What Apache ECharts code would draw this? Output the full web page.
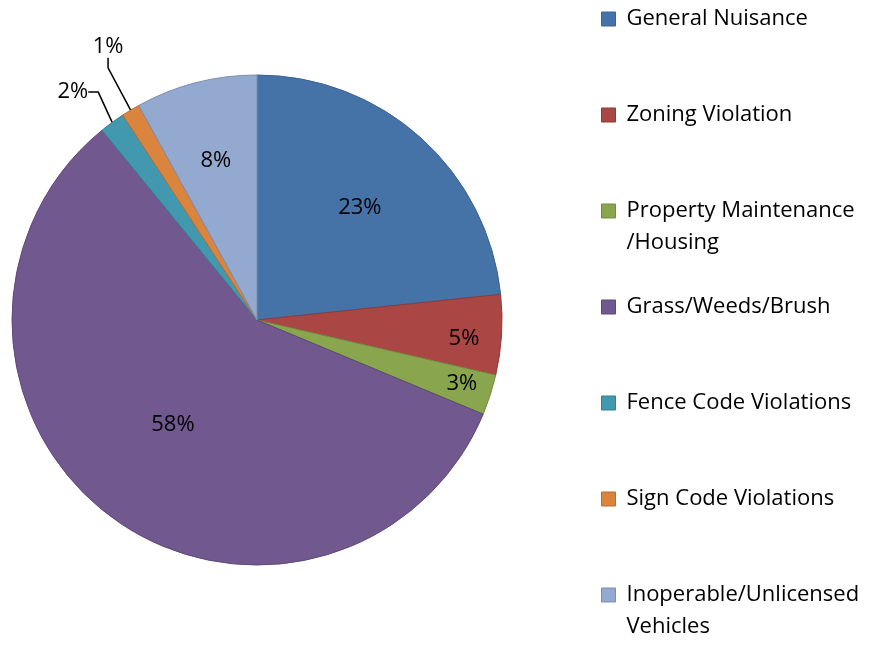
<!DOCTYPE html>
<html><head><meta charset="utf-8">
<script src="https://cdn.jsdelivr.net/npm/echarts@6/dist/echarts.min.js"></script>
<style>html,body{margin:0;padding:0;background:#fff}#c{width:878px;height:646px}</style>
</head><body><div id="c"></div>
<script>
// ---- data ----
const categories = ['General Nuisance', 'Zoning Violation', 'Property Maintenance\n/Housing', 'Grass/Weeds/Brush', 'Fence Code Violations', 'Sign Code Violations', 'Inoperable/Unlicensed\nVehicles'];
const values = [23.33, 5.28, 2.67, 57.82, 1.67, 1.21, 8.02];

// ---- style / layout ----
const fills = ['#4572A7', '#AA4643', '#89A54E', '#71588F', '#4198AF', '#DB843D', '#93A9CF'];
const borders = ['#3B6394', '#8E3A38', '#738B41', '#5E4977', '#367F92', '#B86F33', '#7B8EAF'];
const outsideIdx = [4, 5];
// label placement: [fraction of radius, angle offset from slice middle (deg)]
const labelPlace = [[0.62, -0.6], [0.848, -1.55], [0.875, 0.6], [0.549, -2.0], [1.196, 2.7], [1.27, -2.45], [0.67, 0.1]];
const CX = 257, CY = 320, R = 245;
const FONT = 'Open Sans';
const FS = 22, LH = 32;
const legendCenters = [19, 115, 211, 307, 403, 499, 595];

const chart = echarts.init(document.getElementById('c'), null, {renderer: 'canvas'});
const total = values.reduce((a, b) => a + b, 0);

const data = categories.map((name, i) => {
  const outside = outsideIdx.indexOf(i) >= 0;
  return {
    name: name,
    value: values[i],
    itemStyle: {color: fills[i], borderColor: borders[i], borderWidth: 1},
    label: {position: outside ? 'outside' : 'inside'},
    labelLine: {show: outside, lineStyle: {color: '#000', width: 1.5}, length: 18, length2: 10}
  };
});

const legends = categories.map((name, i) => {
  const lines = name.split('\n');
  const twoLine = lines.length > 1;
  return {
    orient: 'vertical',
    left: 601,
    top: legendCenters[i] - (twoLine ? 1.5 * LH : LH / 2),
    padding: 0,
    itemWidth: 14,
    itemHeight: 14,
    itemGap: 0,
    selectedMode: false,
    data: [{name: name, icon: 'rect', itemStyle: {color: fills[i], borderColor: borders[i], borderWidth: 1}}],
    formatter: function () {
      const toks = lines.map(l => '{t|' + l + '}');
      if (twoLine) toks.unshift('{t| }');
      return toks.join('\n');
    },
    textStyle: {
      fontFamily: FONT, fontSize: FS, color: '#000', lineHeight: LH,
      rich: {t: {fontFamily: FONT, fontSize: FS, color: '#000', lineHeight: LH, padding: [0, 0, 0, 6]}}
    }
  };
});

chart.setOption({
  animation: false,
  backgroundColor: '#fff',
  legend: legends,
  series: [{
    type: 'pie',
    center: [CX, CY],
    radius: [0, R],
    startAngle: 90,
    clockwise: true,
    avoidLabelOverlap: false,
    percentPrecision: 0,
    data: data,
    label: {
      show: true,
      formatter: '{d}%',
      fontFamily: FONT,
      fontSize: FS,
      color: '#000'
    },
    emphasis: {disabled: true},
    labelLayout: function (p) {
      const i = p.dataIndex;
      let cum = 0;
      for (let k = 0; k < i; k++) cum += values[k];
      const mid = 90 - (cum + values[i] / 2) / total * 360 + labelPlace[i][1];
      const r = R * labelPlace[i][0];
      const a = mid * Math.PI / 180;
      return {x: CX + r * Math.cos(a), y: CY - r * Math.sin(a), align: 'center', verticalAlign: 'middle'};
    }
  }]
});
</script>
</body></html>
